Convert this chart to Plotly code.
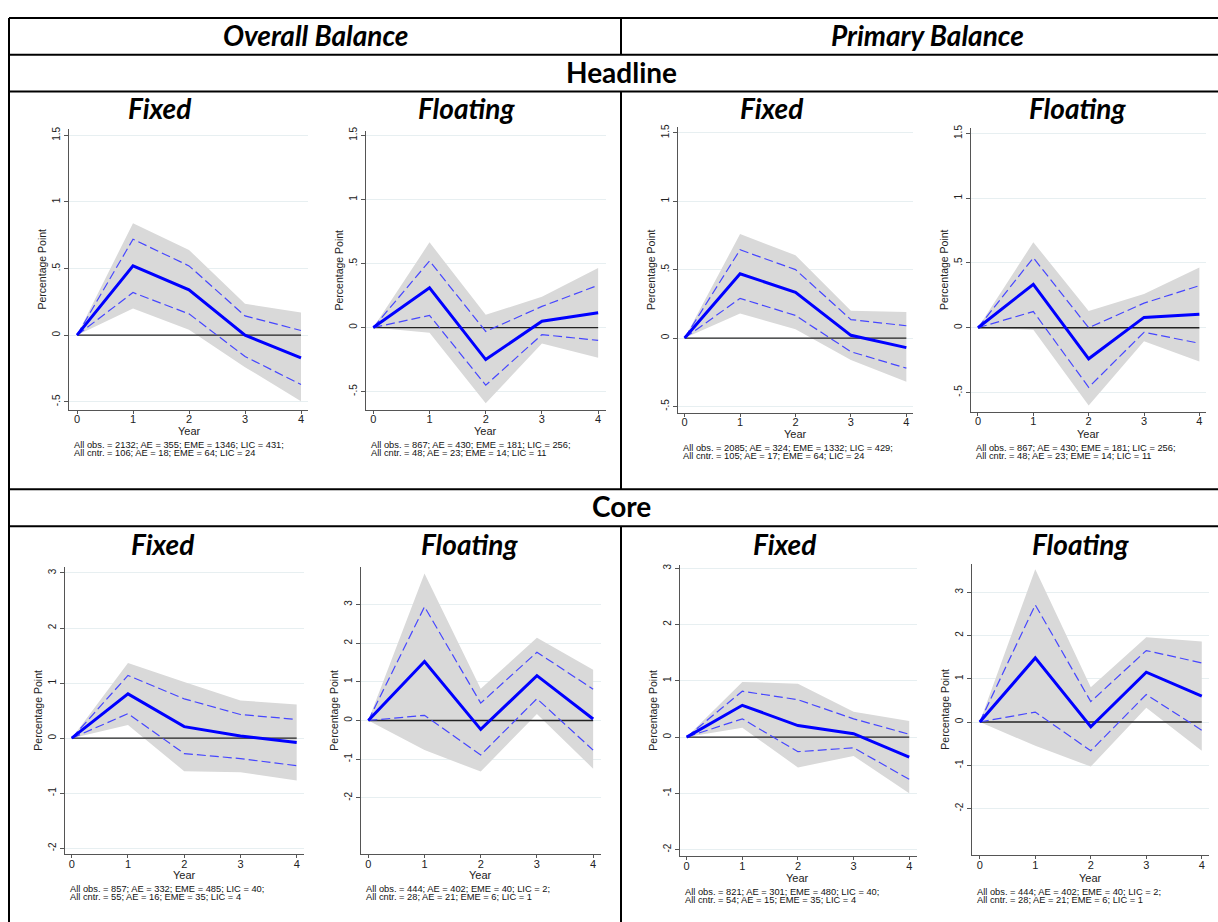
import plotly.graph_objects as go

W, H = 1218, 922

years = [0, 1, 2, 3, 4]

# ---- Headline, Overall balance, Fixed
ho_fix_irf = [0, 0.52, 0.34, 0.0, -0.17]
ho_fix_in_up = [0, 0.72, 0.52, 0.145, 0.035]
ho_fix_in_lo = [0, 0.32, 0.16, -0.16, -0.37]
ho_fix_out_up = [0, 0.84, 0.64, 0.235, 0.17]
ho_fix_out_lo = [0, 0.20, 0.04, -0.24, -0.495]

# ---- Headline, Overall balance, Floating
ho_flo_irf = [0, 0.31, -0.25, 0.05, 0.115]
ho_flo_in_up = [0, 0.52, -0.03, 0.165, 0.33]
ho_flo_in_lo = [0, 0.095, -0.45, -0.055, -0.10]
ho_flo_out_up = [0, 0.665, 0.10, 0.24, 0.465]
ho_flo_out_lo = [0, -0.04, -0.59, -0.125, -0.235]

# ---- Headline, Primary balance, Fixed
hp_fix_irf = [0, 0.47, 0.335, 0.02, -0.07]
hp_fix_in_up = [0, 0.645, 0.50, 0.135, 0.09]
hp_fix_in_lo = [0, 0.29, 0.165, -0.10, -0.22]
hp_fix_out_up = [0, 0.76, 0.605, 0.20, 0.19]
hp_fix_out_lo = [0, 0.18, 0.065, -0.16, -0.32]

# ---- Headline, Primary balance, Floating
hp_flo_irf = [0, 0.335, -0.24, 0.08, 0.105]
hp_flo_in_up = [0, 0.54, 0.0, 0.19, 0.325]
hp_flo_in_lo = [0, 0.125, -0.46, -0.035, -0.12]
hp_flo_out_up = [0, 0.66, 0.13, 0.26, 0.465]
hp_flo_out_lo = [0, -0.015, -0.60, -0.105, -0.26]

# ---- Core, Overall balance, Fixed
co_fix_irf = [0, 0.805, 0.21, 0.04, -0.08]
co_fix_in_up = [0, 1.14, 0.715, 0.43, 0.34]
co_fix_in_lo = [0, 0.445, -0.28, -0.37, -0.50]
co_fix_out_up = [0, 1.365, 1.02, 0.685, 0.61]
co_fix_out_lo = [0, 0.24, -0.60, -0.62, -0.77]

# ---- Core, Overall balance, Floating
co_flo_irf = [0, 1.525, -0.23, 1.16, 0.04]
co_flo_in_up = [0, 2.94, 0.45, 1.765, 0.81]
co_flo_in_lo = [0, 0.135, -0.89, 0.565, -0.765]
co_flo_out_up = [0, 3.8, 0.82, 2.14, 1.31]
co_flo_out_lo = [0, -0.765, -1.32, 0.17, -1.245]

# ---- Core, Primary balance, Fixed
cp_fix_irf = [0, 0.565, 0.205, 0.06, -0.355]
cp_fix_in_up = [0, 0.815, 0.665, 0.325, 0.05]
cp_fix_in_lo = [0, 0.325, -0.26, -0.19, -0.75]
cp_fix_out_up = [0, 0.98, 0.95, 0.45, 0.285]
cp_fix_out_lo = [0, 0.165, -0.54, -0.335, -1.0]

# ---- Core, Primary balance, Floating
cp_flo_irf = [0, 1.48, -0.11, 1.15, 0.6]
cp_flo_in_up = [0, 2.705, 0.47, 1.65, 1.365]
cp_flo_in_lo = [0, 0.23, -0.665, 0.635, -0.19]
cp_flo_out_up = [0, 3.53, 0.80, 1.955, 1.86]
cp_flo_out_lo = [0, -0.55, -1.03, 0.33, -0.665]

# tick labels
head_yticks = [-0.5, 0, 0.5, 1, 1.5]
head_yticktext = ["-.5", "0", ".5", "1", "1.5"]
core_yticks = [-2, -1, 0, 1, 2, 3]
core_yticktext = ["-2", "-1", "0", "1", "2", "3"]
xtick_text = ["0", "1", "2", "3", "4"]

# notes
notes = [
    ("All obs. = 2132; AE = 355; EME = 1346; LIC = 431;", "All cntr. = 106; AE = 18; EME = 64; LIC = 24"),
    ("All obs. = 867; AE = 430; EME = 181; LIC = 256;", "All cntr. = 48; AE = 23; EME = 14; LIC = 11"),
    ("All obs. = 2085; AE = 324; EME = 1332; LIC = 429;", "All cntr. = 105; AE = 17; EME = 64; LIC = 24"),
    ("All obs. = 867; AE = 430; EME = 181; LIC = 256;", "All cntr. = 48; AE = 23; EME = 14; LIC = 11"),
    ("All obs. = 857; AE = 332; EME = 485; LIC = 40;", "All cntr. = 55; AE = 16; EME = 35; LIC = 4"),
    ("All obs. = 444; AE = 402; EME = 40; LIC = 2;", "All cntr. = 28; AE = 21; EME = 6; LIC = 1"),
    ("All obs. = 821; AE = 301; EME = 480; LIC = 40;", "All cntr. = 54; AE = 15; EME = 35; LIC = 4"),
    ("All obs. = 444; AE = 402; EME = 40; LIC = 2;", "All cntr. = 28; AE = 21; EME = 6; LIC = 1"),
]

series = [
    (ho_fix_irf, ho_fix_in_up, ho_fix_in_lo, ho_fix_out_up, ho_fix_out_lo),
    (ho_flo_irf, ho_flo_in_up, ho_flo_in_lo, ho_flo_out_up, ho_flo_out_lo),
    (hp_fix_irf, hp_fix_in_up, hp_fix_in_lo, hp_fix_out_up, hp_fix_out_lo),
    (hp_flo_irf, hp_flo_in_up, hp_flo_in_lo, hp_flo_out_up, hp_flo_out_lo),
    (co_fix_irf, co_fix_in_up, co_fix_in_lo, co_fix_out_up, co_fix_out_lo),
    (co_flo_irf, co_flo_in_up, co_flo_in_lo, co_flo_out_up, co_flo_out_lo),
    (cp_fix_irf, cp_fix_in_up, cp_fix_in_lo, cp_fix_out_up, cp_fix_out_lo),
    (cp_flo_irf, cp_flo_in_up, cp_flo_in_lo, cp_flo_out_up, cp_flo_out_lo),
]

# panel geometry in pixels: (x_left, x_right, y_top, y_bottom), x range, y range, core?
panels = [
    ((69, 308, 125, 407), (-0.143, 4.125), (-0.56, 1.545), False, 428, 442, 450),
    ((366, 606, 127, 407), (-0.13, 4.14), (-0.642, 1.532), False, 428, 442, 450),
    ((678, 913, 123, 410), (-0.12, 4.12), (-0.546, 1.54), False, 431, 445, 453),
    ((971, 1206, 124, 409), (-0.126, 4.12), (-0.649, 1.54), False, 431, 445, 453),
    ((65, 304, 565, 854), (-0.12, 4.13), (-2.11, 3.11), True, 875, 889, 897),
    ((361, 601, 565, 854), (-0.13, 4.14), (-3.46, 3.97), True, 875, 889, 897),
    ((680, 917, 563, 856), (-0.12, 4.14), (-2.12, 3.06), True, 878, 892, 900),
    ((972, 1209, 562, 855), (-0.14, 4.13), (-3.08, 3.65), True, 878, 892, 900),
]


def fx(p):
    return p / W


def fy(p):
    return 1 - p / H


fig = go.Figure()
layout = dict(
    width=W, height=H, autosize=False,
    margin=dict(l=0, r=0, t=0, b=0),
    paper_bgcolor="white", plot_bgcolor="white",
    showlegend=False,
)

annotations = []
shapes = []
chart_font = "Liberation Sans, Arial, sans-serif"
axis_col = "#555555"

for i, ((x0, x1, y0, y1), xr, yr, core, year_y, n1_y, n2_y) in enumerate(panels):
    k = "" if i == 0 else str(i + 1)
    xa, ya = "x" + k, "y" + k
    irf, in_up, in_lo, out_up, out_lo = series[i]
    baseline = [0 for _ in years]

    fig.add_trace(go.Scatter(
        x=years + years[::-1], y=out_up + out_lo[::-1], fill="toself",
        fillcolor="#d9d9d9", line=dict(width=0), mode="lines",
        xaxis=xa, yaxis=ya, hoverinfo="skip"))
    fig.add_trace(go.Scatter(
        x=years, y=baseline, mode="lines", line=dict(color="#222222", width=1.3),
        xaxis=xa, yaxis=ya, hoverinfo="skip"))
    for band in (in_up, in_lo):
        fig.add_trace(go.Scatter(
            x=years, y=band, mode="lines",
            line=dict(color="#4646ff", width=1.2, dash="9px,4px"),
            xaxis=xa, yaxis=ya))
    fig.add_trace(go.Scatter(
        x=years, y=irf, mode="lines", line=dict(color="#0000ff", width=3),
        xaxis=xa, yaxis=ya))

    xkey = "xaxis" + k
    ykey = "yaxis" + k
    layout[xkey] = dict(
        domain=[fx(x0), fx(x1)], range=list(xr), anchor=ya,
        tickvals=years, ticktext=xtick_text, showgrid=False, zeroline=False,
        showline=True, linecolor=axis_col, linewidth=1,
        ticks="outside", ticklen=3, tickcolor=axis_col,
        ticklabelstandoff=-4,
        tickfont=dict(family=chart_font, size=11, color="#222"),
    )
    yt = core_yticks if core else head_yticks
    ytt = core_yticktext if core else head_yticktext
    layout[ykey] = dict(
        domain=[fy(y1), fy(y0)], range=list(yr), anchor=xa,
        tickvals=yt, ticktext=ytt, tickangle=-90,
        showgrid=True, gridcolor="#e7eff1", gridwidth=1, zeroline=False,
        showline=True, linecolor=axis_col, linewidth=1,
        ticks="outside", ticklen=4, tickcolor=axis_col,
        tickfont=dict(family=chart_font, size=10, color="#222"),
    )
    # y title
    annotations.append(dict(
        text="Percentage Point", x=fx(x0 - 27), y=fy((y0 + y1) / 2),
        xref="paper", yref="paper", textangle=-90, showarrow=False,
        xanchor="center", yanchor="middle",
        font=dict(family=chart_font, size=10.5, color="#222")))
    # x title
    annotations.append(dict(
        text="Year", x=2, xref=xa, y=fy(year_y), yref="paper", showarrow=False,
        xanchor="center", yanchor="middle",
        font=dict(family=chart_font, size=11, color="#222")))
    # notes
    for line, ny in zip(notes[i], (n1_y, n2_y)):
        annotations.append(dict(
            text=line, x=fx(x0 + 3), y=fy(ny), xref="paper", yref="paper",
            showarrow=False, xanchor="left", yanchor="middle",
            font=dict(family=chart_font, size=9.3, color="#111")))

# Table headers
title_font = "Lato, 'Open Sans', sans-serif"
headers = [
    ("<b><i>Overall Balance</i></b>", 315, 30),
    ("<b><i>Primary Balance</i></b>", 927, 30),
    ("<b>Headline</b>", 621, 67),
    ("<b>Core</b>", 621, 504),
    ("<b><i>Fixed</i></b>", 160, 104),
    ("<b><i>Floating</i></b>", 466, 104),
    ("<b><i>Fixed</i></b>", 772, 104),
    ("<b><i>Floating</i></b>", 1077, 104),
    ("<b><i>Fixed</i></b>", 163, 542),
    ("<b><i>Floating</i></b>", 470, 542),
    ("<b><i>Fixed</i></b>", 785, 542),
    ("<b><i>Floating</i></b>", 1080, 542),
]
for txt, cx, cy in headers:
    annotations.append(dict(
        text=txt, x=fx(cx), y=fy(cy), xref="paper", yref="paper",
        showarrow=False, xanchor="center", yanchor="middle",
        font=dict(family=title_font, size=28, color="black")))

# Table rules
def hline(py, xa=9, xb=1218):
    shapes.append(dict(type="line", xref="paper", yref="paper",
                       x0=fx(xa), x1=fx(xb), y0=fy(py), y1=fy(py),
                       line=dict(color="black", width=2)))


def vline(px, ya, yb):
    shapes.append(dict(type="line", xref="paper", yref="paper",
                       x0=fx(px), x1=fx(px), y0=fy(ya), y1=fy(yb),
                       line=dict(color="black", width=2)))


for py in (13, 50, 87, 487, 524):
    hline(py)
vline(9, 13, 922)
vline(621, 13, 50)
vline(621, 87, 487)
vline(621, 524, 922)

layout["annotations"] = annotations
layout["shapes"] = shapes
fig.update_layout(**layout)

fig.write_html("out.html")
